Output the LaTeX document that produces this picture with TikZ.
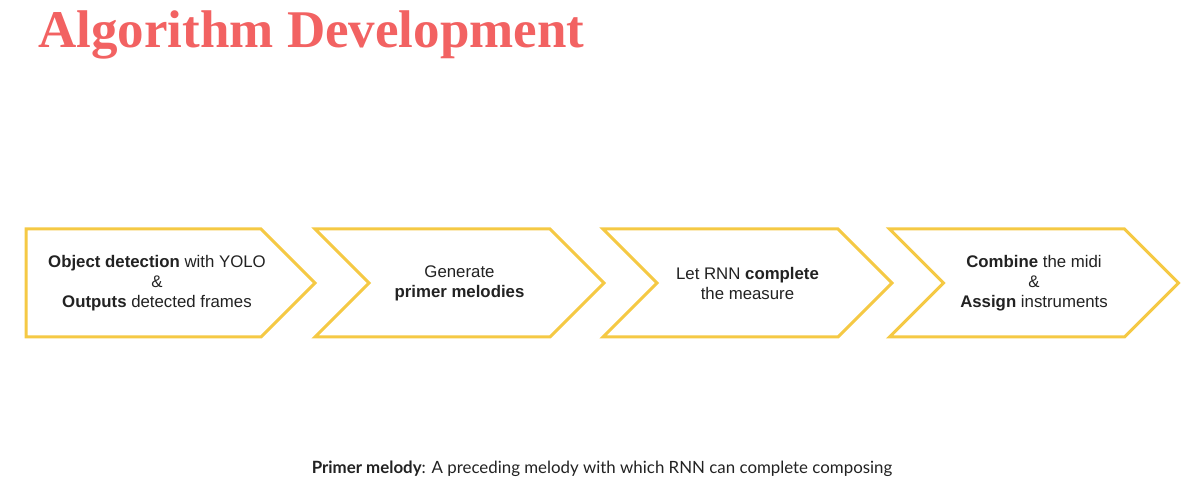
\documentclass[tikz,border=0pt]{standalone}
\usepackage{fontspec}
\setmainfont{Liberation Sans}
\newfontfamily\titlefont{Liberation Serif}
\newfontfamily\notefont{Lato}
\usetikzlibrary{shapes.symbols, positioning}
\definecolor{ink}{HTML}{222222}
\definecolor{coral}{HTML}{F26262}
\definecolor{gold}{HTML}{F5C944}
\tikzset{
  stage/.style={signal, signal to=east, signal from=west, signal pointer angle=90,
                draw=gold, fill=white, line width=2.25pt, line join=miter,
                minimum width=216.75pt, minimum height=81pt, inner sep=0pt,
                align=center, font=\fontsize{12.6}{15}\selectfont, text=ink},
  firststage/.style={stage, signal from=nowhere},
  stagetext/.style={align=center, inner sep=0pt, font=\fontsize{12.6}{15}\selectfont, text=ink},
  title/.style={anchor=base west, inner sep=0pt, text=coral,
                font=\titlefont\bfseries\fontsize{39.75}{40}\selectfont},
  note/.style={anchor=base, inner sep=0pt, text=ink,
               font=\notefont\fontsize{12.65}{14}\selectfont},
}
\begin{document}
\begin{tikzpicture}[x=0.75pt, y=-0.75pt]
    \useasboundingbox (0,0) rectangle (1199,491);
    \node[title] (head) at (38,48) {Algorithm Development};
    % first stage has a flat back, so its text sits apart
    \node[firststage] (s1) at (143.5,283) {};
    \node[stagetext] (t1) at (157,283) {\textbf{Object detection} with YOLO\\\&\\\textbf{Outputs} detected frames};
    \node[stage] (s2) at (459.5,283) {Generate\\\textbf{primer melodies}};
    \node[stage] (s3) at (747.5,283) {Let RNN \textbf{complete}\\the measure};
    \node[stage] (s4) at (1034,283) {\textbf{Combine} the midi\\\&\\\textbf{Assign} instruments};
    \node[note] (foot) at (602,473) {\textbf{Primer melody}: A preceding melody with which RNN can complete composing};
  \end{tikzpicture}
\end{document}
